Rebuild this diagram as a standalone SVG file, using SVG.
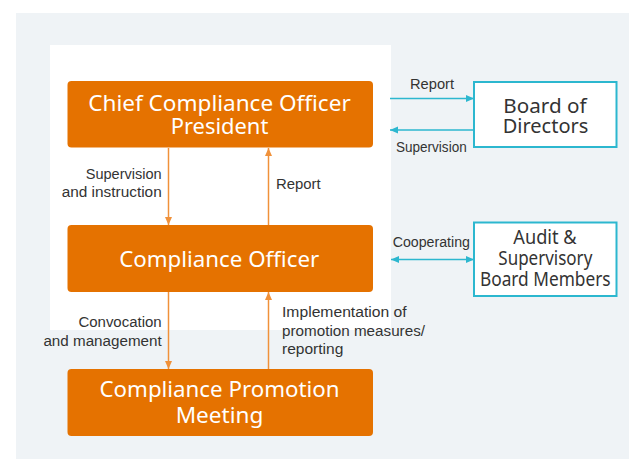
<svg xmlns="http://www.w3.org/2000/svg" width="629" height="459" viewBox="0 0 629 459">
<defs>
<style>
.box{fill:#e57200;}
.bt{font-family:"Noto Sans","Open Sans",sans-serif;font-size:22px;fill:#ffffff;text-anchor:middle;}
.side{fill:#ffffff;stroke:#2cb7cf;stroke-width:2;}
.st{font-family:"Noto Sans","Open Sans",sans-serif;font-size:20px;fill:#333333;text-anchor:middle;}
.lbl{font-family:"Liberation Sans",Arial,sans-serif;font-size:14px;fill:#333333;}
.oa{stroke:#f0913a;stroke-width:1.5;fill:none;}
.ca{stroke:#2cb7cf;stroke-width:1.5;fill:none;}
</style>
<marker id="ao" viewBox="0 0 8 8" refX="8" refY="4" markerWidth="8" markerHeight="8" markerUnits="userSpaceOnUse" orient="auto-start-reverse">
<path d="M0,0.5 L8,4 L0,7.5 Z" fill="#f0913a"/>
</marker>
<marker id="ac" viewBox="0 0 8 8" refX="8" refY="4" markerWidth="8" markerHeight="8" markerUnits="userSpaceOnUse" orient="auto-start-reverse">
<path d="M0,0.5 L8,4 L0,7.5 Z" fill="#2cb7cf"/>
</marker>
</defs>
<rect x="16" y="13" width="613" height="446" fill="#eff3f6"/>
<rect x="50" y="45" width="341" height="285" fill="#ffffff"/>

<g id="connectors">
<line class="oa" x1="168.5" y1="148" x2="168.5" y2="225" marker-end="url(#ao)"/>
<line class="oa" x1="268.5" y1="225" x2="268.5" y2="148" marker-end="url(#ao)"/>
<line class="oa" x1="168.5" y1="292" x2="168.5" y2="369" marker-end="url(#ao)"/>
<line class="oa" x1="268.5" y1="369" x2="268.5" y2="292" marker-end="url(#ao)"/>
<line class="ca" x1="390" y1="98.5" x2="474" y2="98.5" marker-end="url(#ac)"/>
<line class="ca" x1="474" y1="130" x2="390" y2="130" marker-end="url(#ac)"/>
<line class="ca" x1="391" y1="259.5" x2="474" y2="259.5" marker-start="url(#ac)" marker-end="url(#ac)"/>
<text class="lbl" x="161.7" y="179" text-anchor="end" textLength="76" lengthAdjust="spacingAndGlyphs">Supervision</text>
<text class="lbl" x="161.7" y="197" text-anchor="end" textLength="100" lengthAdjust="spacingAndGlyphs">and instruction</text>
<text class="lbl" x="276" y="189" textLength="44.7" lengthAdjust="spacingAndGlyphs">Report</text>
<text class="lbl" x="161.7" y="327" text-anchor="end" textLength="83.3" lengthAdjust="spacingAndGlyphs">Convocation</text>
<text class="lbl" x="161.7" y="345.7" text-anchor="end" textLength="118.3" lengthAdjust="spacingAndGlyphs">and management</text>
<text class="lbl" x="282" y="317.3" textLength="124.7" lengthAdjust="spacingAndGlyphs">Implementation of</text>
<text class="lbl" x="282" y="336" textLength="143" lengthAdjust="spacingAndGlyphs">promotion measures/</text>
<text class="lbl" x="282" y="354" textLength="61.3" lengthAdjust="spacingAndGlyphs">reporting</text>
<text class="lbl" x="410" y="89.3" textLength="44" lengthAdjust="spacingAndGlyphs">Report</text>
<text class="lbl" x="396" y="151.7" textLength="70.7" lengthAdjust="spacingAndGlyphs">Supervision</text>
<text class="lbl" x="392.7" y="247" textLength="77.3" lengthAdjust="spacingAndGlyphs">Cooperating</text>
</g>

<g id="cco">
<rect class="box" x="67.5" y="81" width="305.5" height="66.5" rx="4"/>
<text class="bt" x="219.5" y="111" textLength="262.4" lengthAdjust="spacingAndGlyphs">Chief Compliance Officer</text>
<text class="bt" x="219.5" y="134.3" textLength="97.7" lengthAdjust="spacingAndGlyphs">President</text>
</g>
<g id="co">
<rect class="box" x="67.5" y="225" width="305.5" height="67" rx="4"/>
<text class="bt" x="219.2" y="266.7" textLength="200" lengthAdjust="spacingAndGlyphs">Compliance Officer</text>
</g>
<g id="cpm">
<rect class="box" x="67.5" y="369" width="305.5" height="67" rx="4"/>
<text class="bt" x="219.5" y="397.3" textLength="240" lengthAdjust="spacingAndGlyphs">Compliance Promotion</text>
<text class="bt" x="219.5" y="422.7" textLength="87.7" lengthAdjust="spacingAndGlyphs">Meeting</text>
</g>
<g id="bod">
<rect class="side" x="474" y="82" width="142.5" height="65"/>
<text class="st" x="545" y="112.7" textLength="83.3" lengthAdjust="spacingAndGlyphs">Board of</text>
<text class="st" x="545.5" y="132.7" textLength="85.7" lengthAdjust="spacingAndGlyphs">Directors</text>
</g>
<g id="asbm">
<rect class="side" x="474" y="222.5" width="142.5" height="73.5"/>
<text class="st" x="545" y="244.3" font-size="18" textLength="63.3" lengthAdjust="spacingAndGlyphs">Audit &amp;</text>
<text class="st" x="545.3" y="265" font-size="18" textLength="94" lengthAdjust="spacingAndGlyphs">Supervisory</text>
<text class="st" x="545.3" y="286" font-size="18" textLength="130.7" lengthAdjust="spacingAndGlyphs">Board Members</text>
</g>
</svg>
